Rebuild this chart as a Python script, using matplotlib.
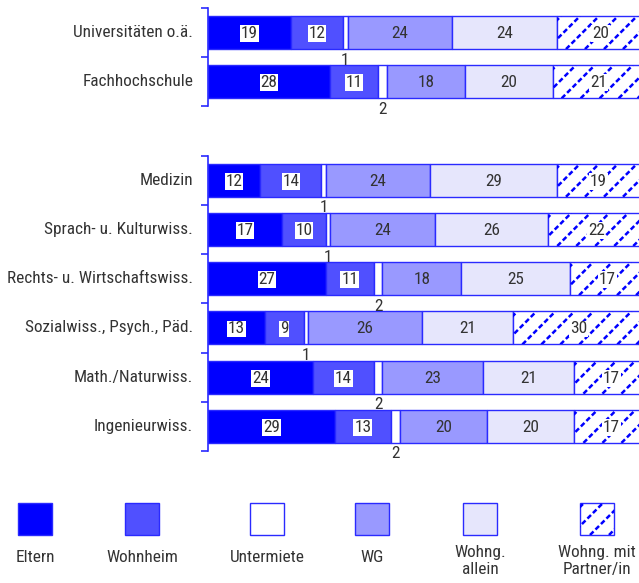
import matplotlib
matplotlib.use('Agg')
import matplotlib.pyplot as plt
from matplotlib.patches import Rectangle
import numpy as np

plt.rcParams['font.family'] = ['Liberation Sans Narrow', 'DejaVu Sans Condensed',
                               'Roboto Condensed', 'Roboto', 'DejaVu Sans']
plt.rcParams['font.stretch'] = 'condensed'

categories = ['Universitäten o.ä.', 'Fachhochschule',
              'Medizin', 'Sprach- u. Kulturwiss.', 'Rechts- u. Wirtschaftswiss.',
              'Sozialwiss., Psych., Päd.', 'Math./Naturwiss.', 'Ingenieurwiss.']
series = ['Eltern', 'Wohnheim', 'Untermiete', 'WG', 'Wohng.\nallein', 'Wohng. mit\nPartner/in']

eltern = [19, 28, 12, 17, 27, 13, 24, 29]
wohnheim = [12, 11, 14, 10, 11, 9, 14, 13]
untermiete = [1, 2, 1, 1, 2, 1, 2, 2]
wg = [24, 18, 24, 24, 18, 26, 23, 20]
allein = [24, 20, 29, 26, 25, 21, 21, 20]
partner = [20, 21, 19, 22, 17, 30, 17, 17]

# row positions: one empty row between the two groups
rows = [0, 1, 3, 4, 5, 6, 7, 8]

values = [eltern, wohnheim, untermiete, wg, allein, partner]
colors = ['#0000ff', '#5050ff', '#ffffff', '#9999ff', '#e6e6fc', '#ffffff']
edge = '#2a2aff'
txt = '#333333'
FS = 12.4

fig = plt.figure(figsize=(6.39, 5.83), dpi=100)
ax = fig.add_axes([208 / 639, 1 - 451 / 583, 1 - 208 / 639, (451 - 8) / 583])
ax.set_xlim(0, 98.8)
ax.set_ylim(8.5, -0.5)

hatched = []
left = np.zeros(len(rows))
for k, (vals, col) in enumerate(zip(values, colors)):
    vals = np.array(vals, dtype=float)
    bars = ax.barh(rows, vals, left=left, height=0.67, color=col,
                   edgecolor=edge, linewidth=1, zorder=2)
    if k == 5:
        hatched.extend(bars.patches)
    for y, l, v in zip(rows, left, vals):
        cx = l + v / 2
        if k == 2:
            ax.text(cx, y + 0.56, f'{int(v)}', ha='center', va='center',
                    fontsize=FS, color=txt)
        elif k in (0, 1, 5):
            ax.text(cx, y + 0.02, f'{int(v)}', ha='center', va='center',
                    fontsize=FS, color=txt, zorder=4,
                    bbox=dict(boxstyle='square,pad=0.05', fc='white', ec='none'))
        else:
            ax.text(cx, y + 0.02, f'{int(v)}', ha='center', va='center',
                    fontsize=FS, color=txt, zorder=4)
    left = left + vals

for s in ax.spines.values():
    s.set_visible(False)
ax.set_xticks([])

# broken left spine, ticks at the row boundaries
ax.plot([0, 0], [-0.5, 1.5], color=edge, lw=1.2, clip_on=False, zorder=3)
ax.plot([0, 0], [2.5, 8.5], color=edge, lw=1.2, clip_on=False, zorder=3)
ax.set_yticks([-0.5, 0.5, 1.5, 2.5, 3.5, 4.5, 5.5, 6.5, 7.5, 8.5])
ax.set_yticklabels([])
ax.tick_params(axis='y', direction='out', length=5, width=1.2, color=edge)
for y, c in zip(rows, categories):
    ax.text(-3.4, y, c, ha='right', va='center', fontsize=FS, color=txt)

# legend along the bottom
centers = [35, 142, 267, 372, 480, 597]
legend_boxes = []
for cx, col, name in zip(centers, colors, series):
    r = Rectangle(((cx - 17) / 639, 1 - 535 / 583), 34 / 639, 32 / 583,
                  transform=fig.transFigure, facecolor=col, edgecolor=edge,
                  linewidth=1)
    fig.patches.append(r)
    legend_boxes.append(r)
    if '\n' in name:
        fig.text(cx / 639, 1 - 561 / 583, name, ha='center', va='center',
                 fontsize=FS, color=txt, linespacing=1.1)
    else:
        fig.text(cx / 639, 1 - 557 / 583, name, ha='center', va='center',
                 fontsize=FS, color=txt)


def hatch_lines(patch, trans, spacing=19):
    # dashed diagonal hatch, laid out in pixels
    bb = patch.get_window_extent()
    inv = trans.inverted()
    h = bb.height
    x = bb.x0 - h + 4
    out = []
    while x < bb.x1 + spacing:
        pts = inv.transform([[x, bb.y0], [x + h, bb.y1]])
        out.append(plt.Line2D(pts[:, 0], pts[:, 1], transform=trans,
                              color='#0000ff', lw=1.8, dashes=(2.0, 1.1),
                              zorder=2.5))
        x += spacing
    return out


fig.canvas.draw()
for p in hatched:
    for ln in hatch_lines(p, ax.transData):
        ax.add_line(ln)
        ln.set_clip_path(p)
for ln in hatch_lines(legend_boxes[-1], fig.transFigure):
    fig.lines.append(ln)
    ln.set_clip_path(legend_boxes[-1])

fig.savefig('out.png', dpi=100)
